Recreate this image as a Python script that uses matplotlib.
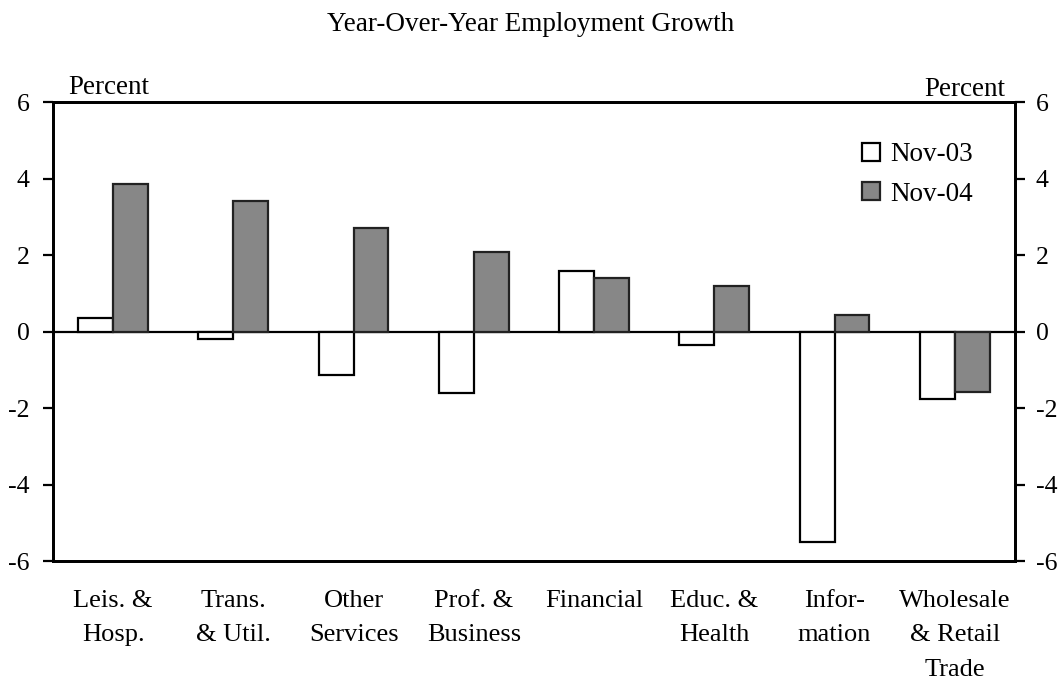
import matplotlib
matplotlib.use("Agg")
import matplotlib.pyplot as plt
import numpy as np
from matplotlib.patches import Patch

plt.rcParams['font.family'] = 'Liberation Serif'

# Sectors and growth rates (percent, year over year)
sectors = ["Leis. &\nHosp.", "Trans.\n& Util.", "Other\nServices", "Prof. &\nBusiness",
           "Financial", "Educ. &\nHealth", "Infor-\nmation", "Wholesale\n& Retail\nTrade"]
nov03 = [0.35, -0.2, -1.13, -1.6, 1.59, -0.34, -5.5, -1.77]
nov04 = [3.85, 3.42, 2.7, 2.07, 1.41, 1.18, 0.42, -1.58]
yticks = [-6, -4, -2, 0, 2, 4, 6]

grey = '#878787'

fig = plt.figure(figsize=(10.62, 6.87), dpi=100)
ax = fig.add_axes([0.0499, 0.1834, 0.9058, 0.668])

x = np.arange(len(sectors))
w = 0.29
ax.bar(x - w/2, nov03, w, facecolor='white', edgecolor='black', linewidth=1.6, zorder=3)
ax.bar(x + w/2, nov04, w, facecolor=grey, edgecolor='#222222', linewidth=1.6, zorder=3)
ax.axhline(0, color='black', linewidth=1.6, zorder=2)

ax.set_xlim(-0.5, 7.5)
ax.set_ylim(-6, 6)
ax.set_yticks(yticks)
ax.set_yticklabels([str(t) for t in yticks], fontsize=18.5)
ax.set_xticks(x)
ax.set_xticklabels(sectors, fontsize=19, linespacing=1.72, va='top')
ax.tick_params(axis='x', length=0, pad=21)
ax.tick_params(axis='y', direction='out', length=7, width=1.6, pad=10)
for s in ax.spines.values():
    s.set_linewidth(2)

ax2 = ax.twinx()
ax2.set_ylim(-6, 6)
ax2.set_yticks(yticks)
ax2.set_yticklabels([str(t) for t in yticks], fontsize=18.5)
ax2.tick_params(axis='y', direction='out', length=7, width=1.6, pad=8)
for s in ax2.spines.values():
    s.set_linewidth(2)

fig.text(0.5, 0.965, "Year-Over-Year Employment Growth", ha='center', va='center', fontsize=19.5)
fig.text(0.064, 0.872, "Percent", ha='left', va='center', fontsize=19.5)
fig.text(0.947, 0.870, "Percent", ha='right', va='center', fontsize=19.5)

handles = [Patch(facecolor='white', edgecolor='black', linewidth=1.6, label='Nov-03'),
           Patch(facecolor=grey, edgecolor='#222222', linewidth=1.6, label='Nov-04')]
ax2.legend(handles=handles, loc='upper right', bbox_to_anchor=(0.982, 0.966), frameon=False,
           fontsize=19.5, handlelength=0.65, handleheight=0.65, handletextpad=0.4, labelspacing=0.55)

fig.savefig("out.png", dpi=100)
